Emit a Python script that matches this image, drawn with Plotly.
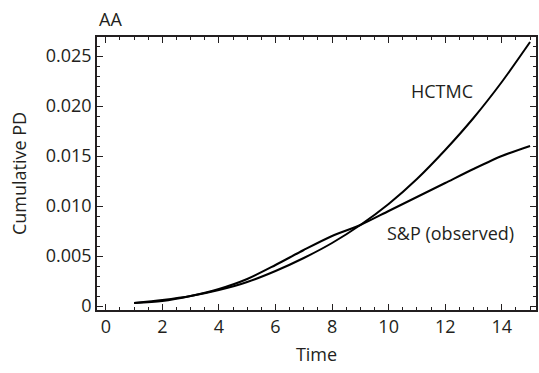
import plotly.graph_objects as go

time = list(range(1, 16))
hctmc = [0.0003, 0.0006, 0.0010, 0.0016, 0.0024, 0.0035, 0.0048, 0.0063, 0.0081,
         0.0102, 0.0127, 0.0156, 0.0188, 0.0224, 0.0264]
sp_observed = [0.0003, 0.0005, 0.0010, 0.0017, 0.0027, 0.0041, 0.0056, 0.0070, 0.0081,
               0.0095, 0.0109, 0.0123, 0.0137, 0.0150, 0.0160]

x_tickvals = [0, 2, 4, 6, 8, 10, 12, 14]
x_ticktext = ["0", "2", "4", "6", "8", "10", "12", "14"]
y_tickvals = [0, 0.005, 0.010, 0.015, 0.020, 0.025]
y_ticktext = ["0", "0.005", "0.010", "0.015", "0.020", "0.025"]

font_family = "Open Sans, Noto Sans, DejaVu Sans, sans-serif"
txt = "#231f20"
fs = 18

fig = go.Figure()
fig.add_trace(go.Scatter(x=time, y=hctmc, mode="lines", name="HCTMC",
                         line=dict(color="black", width=2, shape="spline", smoothing=0.8)))
fig.add_trace(go.Scatter(x=time, y=sp_observed, mode="lines", name="S&P (observed)",
                         line=dict(color="black", width=2, shape="spline", smoothing=0.8)))

fig.add_annotation(x=11.9, y=0.0215, text="HCTMC", showarrow=False,
                   font=dict(size=fs, color=txt, family=font_family))
fig.add_annotation(x=12.2, y=0.0073, text="S&P (observed)", showarrow=False,
                   font=dict(size=fs, color=txt, family=font_family))

axis_common = dict(showline=True, linecolor="#231f20", linewidth=1.5, mirror="ticks",
                   ticks="inside", ticklen=6, tickcolor="#231f20", tickwidth=1.2,
                   showgrid=False, zeroline=False, automargin=False,
                   tickfont=dict(size=fs, color=txt, family=font_family))

fig.update_layout(
    width=539, height=373,
    margin=dict(l=97, r=3, t=37, b=63),
    paper_bgcolor="white", plot_bgcolor="white",
    showlegend=False,
    font=dict(family=font_family, color=txt),
    xaxis=dict(range=[-0.31, 15.21], tickvals=x_tickvals, ticktext=x_ticktext,
               title=dict(text="Time", font=dict(size=fs, color=txt), standoff=11),
               minor=dict(dtick=0.5, tick0=0, ticks="inside", ticklen=3,
                          tickcolor="#231f20", tickwidth=1),
               **axis_common),
    yaxis=dict(range=[-0.0004, 0.0269], tickvals=y_tickvals, ticktext=y_ticktext,
               title=dict(text="Cumulative PD", font=dict(size=fs, color=txt), standoff=14),
               minor=dict(dtick=0.001, tick0=0, ticks="inside", ticklen=3,
                          tickcolor="#231f20", tickwidth=1),
               **axis_common),
)
fig.add_annotation(x=0, y=1, xref="paper", yref="paper", xanchor="left", yanchor="bottom",
                   yshift=4, text="AA", showarrow=False,
                   font=dict(size=fs, color=txt, family=font_family))

fig.write_html("out.html", config={"displayModeBar": False},
               post_script="document.body.style.margin='0';document.body.style.overflow='hidden';")
